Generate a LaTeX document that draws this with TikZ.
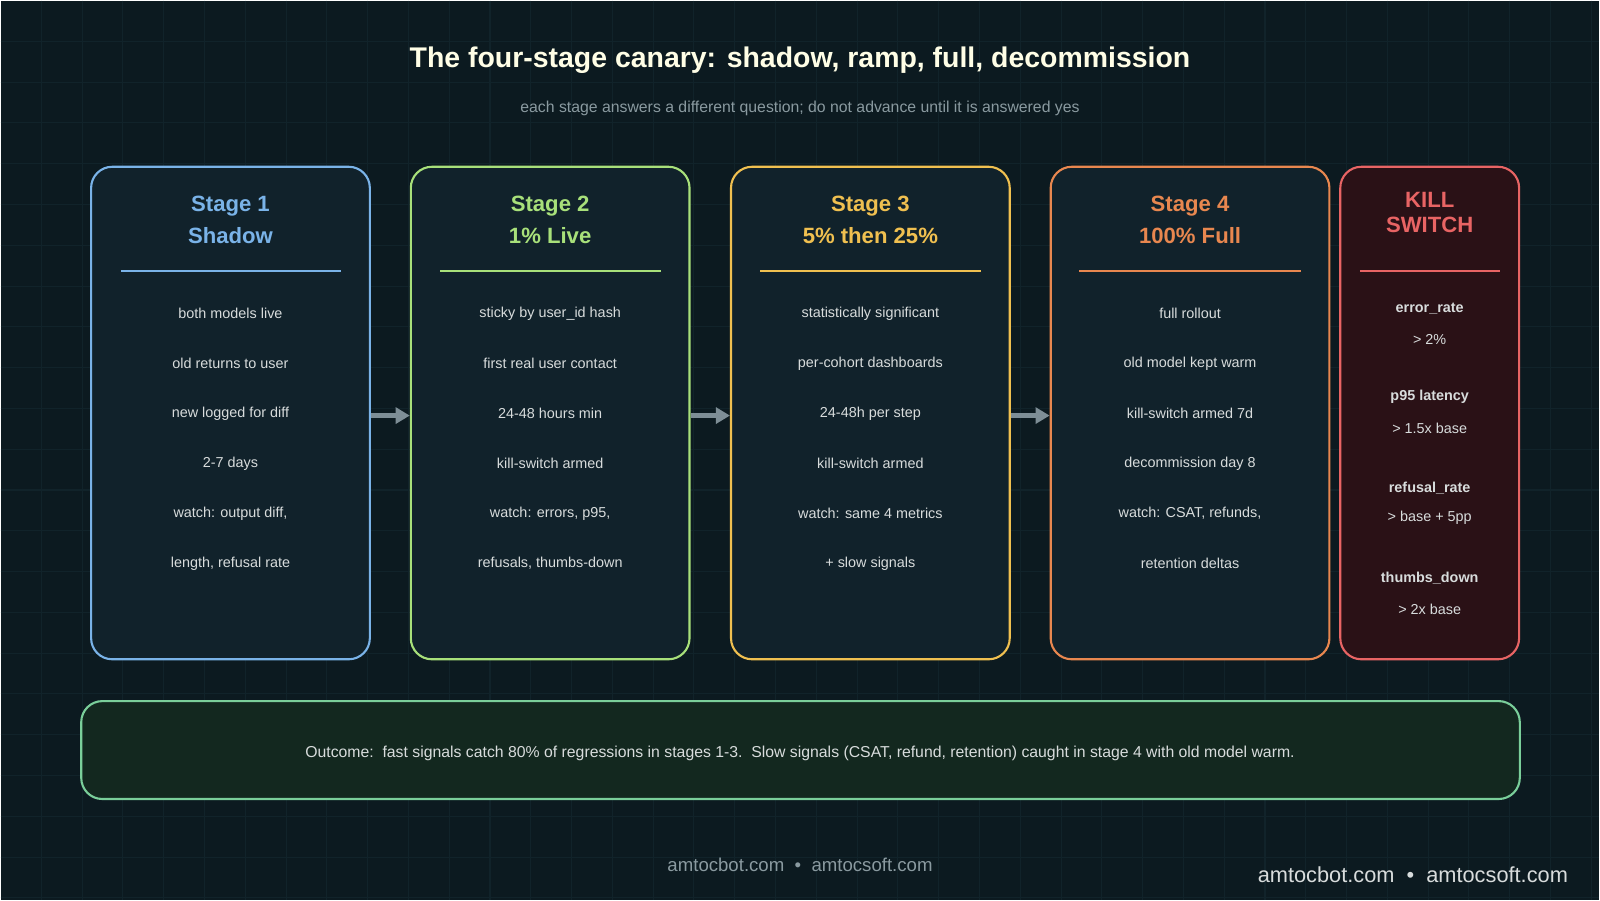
\documentclass[tikz,border=0pt]{standalone}
\usepackage{fontspec}
\setmainfont{Liberation Sans}
\usetikzlibrary{arrows.meta, positioning}
\definecolor{bgc}{HTML}{0C1A20}
\definecolor{gridc}{HTML}{11232A}
\definecolor{boxc}{HTML}{11222B}
\definecolor{txtc}{HTML}{D8DCDC}
\definecolor{subc}{HTML}{8A9AA0}
\definecolor{sone}{HTML}{7AB3E8}
\definecolor{stwo}{HTML}{A8E07A}
\definecolor{sthree}{HTML}{F0C050}
\definecolor{sfour}{HTML}{E8874F}
\definecolor{killc}{HTML}{E86464}
\definecolor{killbg}{HTML}{2A1116}
\definecolor{outc}{HTML}{7ACF9A}
\definecolor{outbg}{HTML}{13281F}
\definecolor{arrc}{HTML}{7E8E96}

\begin{document}
\begin{tikzpicture}[
    x=0.010204cm, y=-0.010204cm,
    stage/.style={draw, line width=0.6pt, fill=boxc, rounded corners=6pt, minimum width=2.79cm, minimum height=4.93cm},
    head/.style={font=\fontsize{6.3}{9.2}\selectfont\bfseries, align=center},
    item/.style={font=\fontsize{4.1}{5}\selectfont, text=txtc},
    kitem/.style={font=\fontsize{4.1}{5}\selectfont\bfseries, text=txtc},
    arrow/.style={-{Triangle[length=4pt,width=4.5pt]}, line width=1.3pt, arrc}
]
    % background
    \fill[bgc] (0,0) rectangle (1568,882);
    \foreach \gx in {40,80,...,1560} \draw[gridc, line width=0.3pt] (\gx,0) -- (\gx,882);
    \foreach \gy in {40,80,...,880} \draw[gridc, line width=0.3pt] (0,\gy) -- (1568,\gy);
    \useasboundingbox (0,0) rectangle (1568,882);

    % Title
    \node[font=\fontsize{8.1}{10}\selectfont\bfseries, text=white!90!yellow] (title) at (784,59) {The four-stage canary: shadow, ramp, full, decommission};
    \node[font=\fontsize{4.5}{6}\selectfont, text=subc] (subtitle) at (784,106) {each stage answers a different question; do not advance until it is answered yes};

    % Stages
    \node[stage, draw=sone] (s1) at (225.5,404.5) {};
    \node[stage, draw=stwo] (s2) at (539,404.5) {};
    \node[stage, draw=sthree] (s3) at (853,404.5) {};
    \node[stage, draw=sfour] (s4) at (1166.5,404.5) {};
    \node[stage, draw=killc, fill=killbg, minimum width=1.79cm] (kill) at (1401.5,404.5) {};

    \node[head, text=sone] (h1) at (225.5,215) {Stage 1\\Shadow};
    \node[head, text=stwo] (h2) at (539,215) {Stage 2\\1\% Live};
    \node[head, text=sthree] (h3) at (853,215) {Stage 3\\5\% then 25\%};
    \node[head, text=sfour] (h4) at (1166.5,215) {Stage 4\\100\% Full};
    \node[head, text=killc, font=\fontsize{6.3}{7.2}\selectfont\bfseries] (hk) at (1401.5,208) {KILL\\SWITCH};

    \draw[sone, line width=0.5pt] (118,265) -- (334,265);
    \draw[stwo, line width=0.5pt] (431,265) -- (648,265);
    \draw[sthree, line width=0.5pt] (745,265) -- (961,265);
    \draw[sfour, line width=0.5pt] (1058,265) -- (1275,265);
    \draw[killc, line width=0.5pt] (1333,265) -- (1470,265);

    % items
    \foreach \t [count=\i] in {both models live, old returns to user, new logged for diff, 2-7 days, {watch: output diff,}, {length, refusal rate}}
        \node[item] (a\i) at (225.5,258+49*\i) {\t};
    \foreach \t [count=\i] in {sticky by user\_id hash, first real user contact, 24-48 hours min, kill-switch armed, {watch: errors, p95,}, {refusals, thumbs-down}}
        \node[item] (b\i) at (539,258+49*\i) {\t};
    \foreach \t [count=\i] in {statistically significant, per-cohort dashboards, 24-48h per step, kill-switch armed, watch: same 4 metrics, + slow signals}
        \node[item] (c\i) at (853,258+49*\i) {\t};
    \foreach \t [count=\i] in {full rollout, old model kept warm, kill-switch armed 7d, decommission day 8, {watch: CSAT, refunds,}, retention deltas}
        \node[item] (d\i) at (1166.5,258+49*\i) {\t};

    % kill switch thresholds
    \node[kitem] (k1) at (1401.5,302) {error\_rate};
    \node[item] (v1) at (1401.5,332) {> 2\%};
    \node[kitem] (k2) at (1401.5,389) {p95 latency};
    \node[item] (v2) at (1401.5,420) {> 1.5x base};
    \node[kitem] (k3) at (1401.5,478) {refusal\_rate};
    \node[item] (v3) at (1401.5,507) {> base + 5pp};
    \node[kitem] (k4) at (1401.5,566) {thumbs\_down};
    \node[item] (v4) at (1401.5,597) {> 2x base};

    % arrows
    \draw[arrow] (s1.east |- 0,407) -- (s2.west |- 0,407);
    \draw[arrow] (s2.east |- 0,407) -- (s3.west |- 0,407);
    \draw[arrow] (s3.east |- 0,407) -- (s4.west |- 0,407);

    % Outcome
    \node[draw=outc, fill=outbg, line width=0.6pt, rounded corners=6pt, minimum width=14.4cm, minimum height=0.98cm] (outcome) at (784.5,735) {};
    \node[item, font=\fontsize{4.5}{6}\selectfont] (outtext) at (784,738) {Outcome:\ \ fast signals catch 80\% of regressions in stages 1-3.\ \ Slow signals (CSAT, refund, retention) caught in stage 4 with old model warm.};

    % Footer
    \node[font=\fontsize{5.3}{7}\selectfont, text=subc] (foot) at (784,848) {amtocbot.com\ \ \textbullet\ \ amtocsoft.com};
    \node[font=\fontsize{6.2}{8}\selectfont, text=txtc] (mark) at (1385,857) {amtocbot.com\ \ \textbullet\ \ amtocsoft.com};
\end{tikzpicture}
\end{document}
